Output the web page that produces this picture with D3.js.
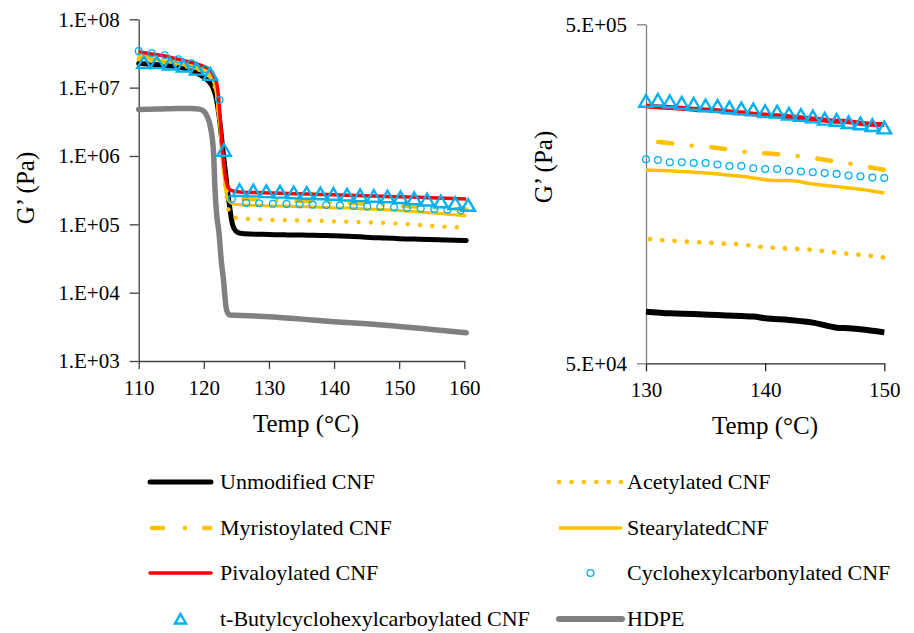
<!DOCTYPE html>
<html>
<head>
<meta charset="utf-8">
<script src="https://cdn.jsdelivr.net/npm/d3@7"></script>
<style>
  body { margin: 0; background: #fff; }
  svg text { font-family: "Liberation Serif", "Times New Roman", serif; fill: #000; }
</style>
</head>
<body>
<div id="chart"></div>
<script>
// ---- data: [temp °C, G' Pa] ----
const hdpe = [[110,4.8e6],[113,4.85e6],[116,4.95e6],[118,4.95e6],[119.3,4.85e6],[120,4.5e6],[120.5,3.8e6],[121,2.7e6],[121.5,1.1e6],
  [121.7,3.5e5],[122,1.3e5],[122.3,8e4],[122.7,2.8e4],[123,1.6e4],[123.5,5.5e3],[124,4.7e3],[127,4.6e3],[130,4.45e3],
  [135,4.1e3],[140,3.75e3],[145,3.5e3],[150,3.2e3],[155,2.9e3],[160.3,2.6e3]];

const unmodified = [[110,2.25e7],[112,2.2e7],[114,2.12e7],[116,2.02e7],[118,1.8e7],[119,1.62e7],[120,1.42e7],[120.8,1.22e7],
  [121.4,1.0e7],[121.9,7.0e6],[122.4,3.5e6],[122.9,1.3e6],[123.4,5.0e5],[123.9,2.0e5],[124.4,1.0e5],[124.9,8.0e4],[125.6,7.4e4],
  [127,7.2e4],[130,7.10e4],[132,7.02e4],[134,6.99e4],[136,6.94e4],[138,6.89e4],[139,6.87e4],[140,6.79e4],[142,6.71e4],
  [144,6.59e4],[146,6.37e4],[147,6.34e4],[148,6.30e4],[150,6.17e4],[153,6.05e4],[156,5.95e4],[160.3,5.8e4]];

const acetylated = [[110,2.6e7],[112,2.45e7],[114,2.3e7],[116,2.15e7],[118,1.95e7],[120,1.7e7],[121,1.45e7],[121.6,1.1e7],
  [122.1,6.0e6],[122.5,2.5e6],[122.9,9.0e5],[123.3,3.6e5],[123.7,1.8e5],[124.2,1.32e5],[125,1.24e5],[127,1.2e5],
  [130,1.165e5],[132,1.15e5],[134,1.14e5],[136,1.13e5],[138,1.12e5],[140,1.10e5],[142,1.09e5],[144,1.08e5],[146,1.06e5],
  [148,1.045e5],[150,1.025e5],[153,9.8e4],[156,9.4e4],[160.3,8.9e4]];

const myristoylated = [[110,3.0e7],[112,2.8e7],[114,2.6e7],[116,2.4e7],[118,2.15e7],[120,1.85e7],[121,1.55e7],[121.6,1.2e7],
  [122.1,6.5e6],[122.5,2.6e6],[122.9,9.0e5],[123.3,4.0e5],[123.8,2.7e5],[124.5,2.45e5],[126,2.35e5],[128,2.3e5],
  [130,2.26e5],[131.5,2.24e5],[134,2.19e5],[135.5,2.17e5],[138.5,2.10e5],[141,2.07e5],[143,2.04e5],[145.5,1.98e5],
  [147.5,1.93e5],[150,1.86e5],[153,1.8e5],[156,1.74e5],[160.3,1.66e5]];

const stearylated = [[110,2.8e7],[112,2.62e7],[114,2.45e7],[116,2.25e7],[118,2.0e7],[120,1.75e7],[121,1.5e7],[121.6,1.15e7],
  [122.1,6.0e6],[122.5,2.4e6],[122.9,8.5e5],[123.3,3.4e5],[123.8,2.2e5],[124.5,1.98e5],[126,1.92e5],[128,1.89e5],
  [130,1.86e5],[132,1.85e5],[134,1.83e5],[136,1.81e5],[138,1.78e5],[140,1.74e5],[141,1.73e5],[142,1.73e5],[144,1.69e5],
  [146,1.66e5],[148,1.63e5],[150,1.59e5],[153,1.52e5],[156,1.44e5],[160.3,1.33e5]];

const pivaloylated = [[110,3.35e7],[112,3.1e7],[114,2.9e7],[116,2.6e7],[118,2.35e7],[120,2.05e7],[121,1.8e7],[121.6,1.45e7],
  [122.1,1.0e7],[122.4,5.0e6],[122.7,2.0e6],[123,9.0e5],[123.4,4.5e5],[123.9,3.3e5],[124.6,3.05e5],[126,2.95e5],[128,2.91e5],
  [130,2.87e5],[132,2.84e5],[134,2.81e5],[136,2.78e5],[138,2.74e5],[140,2.70e5],[142,2.67e5],[144,2.63e5],[146,2.59e5],
  [147,2.58e5],[148,2.55e5],[150,2.53e5],[153,2.48e5],[156,2.42e5],[160.3,2.35e5]];

// marker series, overview chart
const cycloLeft = [[110,3.44e7],[112,3.18e7],[114,2.98e7],[116.1,2.6e7],[118.1,2.27e7],[120.2,1.86e7],[122.4,6.6e6],
  [124.3,2.34e5],[126.5,2.06e5],[128.5,2.03e5],[130.6,2.0e5],[132.7,1.98e5],[134.7,1.96e5],[136.7,1.94e5],[138.8,1.92e5],
  [140.9,1.89e5],[143,1.86e5],[145.1,1.83e5],[147.1,1.8e5],[149.2,1.77e5],[151.2,1.74e5],[153.3,1.71e5],[155.4,1.68e5],
  [157.4,1.64e5],[159.5,1.6e5]];

const butylLeft = [[110.8,2.3e7],[112.8,2.3e7],[114.8,2.2e7],[116.9,2.05e7],[118.9,1.85e7],[121,1.55e7],[123.1,1.2e6],
  [125.5,3.1e5],[127.6,3.05e5],[129.6,2.98e5],[131.7,2.93e5],[133.8,2.87e5],[135.8,2.82e5],[137.9,2.77e5],[139.9,2.72e5],
  [142,2.66e5],[144,2.6e5],[146.1,2.55e5],[148.2,2.5e5],[150.2,2.44e5],[152.3,2.35e5],[154.3,2.25e5],[156.4,2.12e5],
  [158.6,2.0e5],[160.6,1.88e5]];

// marker series, zoomed chart (130-150 °C)
const zoomTemps = [130,131,132,133,134,135,136,137,138,139,140,141,142,143,144,145,146,147,148,149,150];
const cycloRight = [2.00e5,1.99e5,1.96e5,1.96e5,1.95e5,1.95e5,1.93e5,1.91e5,1.91e5,1.88e5,1.87e5,1.87e5,1.85e5,
  1.84e5,1.83e5,1.82e5,1.81e5,1.79e5,1.78e5,1.765e5,1.76e5];
const butylRight = [2.96e5,2.98e5,2.95e5,2.92e5,2.90e5,2.87e5,2.86e5,2.83e5,2.81e5,2.79e5,2.76e5,2.75e5,2.71e5,
  2.69e5,2.66e5,2.62e5,2.60e5,2.56e5,2.54e5,2.51e5,2.47e5];

const leftXTicks = [110,120,130,140,150,160];
const leftYTicks = [1e3,1e4,1e5,1e6,1e7,1e8];
const rightXTicks = [130,140,150];
const rightYTicks = [5e4,5e5];

const YELLOW = "#FFC000", BLUE = "#00B0F0", RED = "#FF0000", GRAY = "#808080";

const svg = d3.select("#chart").append("svg").attr("width", 914).attr("height", 633);

function expFormat(d) {
  const e = Math.floor(Math.log10(d) + 1e-9);
  const m = Math.round(d / Math.pow(10, e));
  return m + ".E+" + String(e).padStart(2, "0");
}

const triPath = "M0,-6.5L6.8,5.2L-6.8,5.2Z";

function drawPanel(g, x, y, xTicks, yTicks, opt) {
  const [y0] = y.range();
  const [x0] = x.range();
  const xa = g.append("g").attr("transform", `translate(0,${y0})`)
    .call(d3.axisBottom(x).tickValues(xTicks).tickSize(8).tickPadding(11).tickSizeOuter(0).tickFormat(d3.format("d")));
  xa.select(".domain").attr("stroke", opt.xAxisColor).attr("stroke-width", 1.3);
  xa.selectAll(".tick line").attr("stroke", opt.xAxisColor).attr("stroke-width", 1.3);
  xa.selectAll("text").attr("font-size", 21);

  const ya = g.append("g").attr("transform", `translate(${x0},0)`)
    .call(d3.axisLeft(y).tickValues(yTicks).tickSize(9).tickPadding(10).tickSizeOuter(0).tickFormat(expFormat));
  ya.select(".domain").attr("stroke", opt.yAxisColor).attr("stroke-width", 1.3);
  ya.selectAll(".tick line").attr("stroke", opt.yAxisColor).attr("stroke-width", 1.3);
  ya.selectAll("text").attr("font-size", 21);

  g.append("text").attr("x", opt.xTitle[0]).attr("y", opt.xTitle[1]).attr("text-anchor", "middle")
    .attr("dy", "0.35em").attr("font-size", 25).text("Temp (°C)");
  g.append("text").attr("transform", `translate(${opt.yTitle[0]},${opt.yTitle[1]}) rotate(-90)`)
    .attr("text-anchor", "middle").attr("dy", "0.35em").attr("font-size", 25).text("G’ (Pa)");
}

function drawLines(g, x, y, series, lo, hi) {
  const line = d3.line().x(d => x(d[0])).y(d => y(d[1])).curve(d3.curveMonotoneX);
  series.forEach(s => {
    const pts = s.data.filter(d => d[0] >= lo && d[0] <= hi);
    g.append("path").datum(pts).attr("d", line)
      .attr("fill", "none").attr("stroke", s.color).attr("stroke-width", s.width)
      .attr("stroke-linecap", s.cap || "butt").attr("stroke-linejoin", "round")
      .attr("stroke-dasharray", s.dash || null).attr("stroke-dashoffset", s.offset || 0);
  });
}

function drawMarkers(g, x, y, circles, triangles) {
  g.append("g").selectAll("circle").data(circles).join("circle")
    .attr("cx", d => x(d[0])).attr("cy", d => y(d[1])).attr("r", 3.4)
    .attr("fill", "none").attr("stroke", BLUE).attr("stroke-width", 1.3);
  g.append("g").selectAll("path").data(triangles).join("path")
    .attr("d", triPath).attr("transform", d => `translate(${x(d[0])},${y(d[1])})`)
    .attr("fill", "none").attr("stroke", BLUE).attr("stroke-width", 2.4).attr("stroke-linejoin", "miter");
}

// ---- left: overview ----
const xL = d3.scaleLinear().domain([110, 160]).range([138.7, 464.3]);
const yL = d3.scaleLog().domain([1e3, 1e8]).range([361, 19.3]);
const gL = svg.append("g");
drawPanel(gL, xL, yL, leftXTicks, leftYTicks, {xAxisColor: "#404040", yAxisColor: "#404040", xTitle: [306, 423], yTitle: [25, 188]});
drawLines(gL, xL, yL, [
  {data: hdpe, color: GRAY, width: 5.5, cap: "round"},
  {data: unmodified, color: "#000", width: 5, cap: "round"},
  {data: acetylated, color: YELLOW, width: 4.3, cap: "round", dash: "0.1 12.2"},
  {data: myristoylated, color: YELLOW, width: 4, cap: "round", dash: "14 19.5 0.1 19.7"},
  {data: stearylated, color: YELLOW, width: 3},
  {data: pivaloylated, color: RED, width: 3.5}
], 100, 170);
drawMarkers(gL, xL, yL, cycloLeft, butylLeft);

// ---- right: zoom 130-150 ----
const xR = d3.scaleLinear().domain([130, 150]).range([646, 884.3]);
const yR = d3.scaleLog().domain([5e4, 5e5]).range([363.3, 24.3]);
const gR = svg.append("g");
drawPanel(gR, xR, yR, rightXTicks, rightYTicks, {xAxisColor: "#262626", yAxisColor: "#7f7f7f", xTitle: [765, 425], yTitle: [543, 167]});
drawLines(gR, xR, yR, [
  {data: unmodified, color: "#000", width: 6},
  {data: acetylated, color: YELLOW, width: 4.7, cap: "round", dash: "0.1 12.2", offset: 8.3},
  {data: myristoylated, color: YELLOW, width: 4.5, cap: "round", dash: "14 19.5 0.1 19.7", offset: 41},
  {data: stearylated, color: YELLOW, width: 3.5},
  {data: pivaloylated, color: RED, width: 5}
], 130, 150);
drawMarkers(gR, xR, yR, zoomTemps.map((t, i) => [t, cycloRight[i]]), zoomTemps.map((t, i) => [t, butylRight[i]]));

// ---- legend ----
const legendItems = [
  {name: "Unmodified CNF", col: 0, row: 0, type: "line", color: "#000", width: 5, cap: "round"},
  {name: "Acetylated CNF", col: 1, row: 0, type: "line", color: YELLOW, width: 4.5, cap: "round", dash: "0.1 12.3"},
  {name: "Myristoylated CNF", col: 0, row: 1, type: "line", color: YELLOW, width: 4.5, cap: "round", dash: "11 22 0.1 19", x1: 152, x2: 210},
  {name: "StearylatedCNF", col: 1, row: 1, type: "line", color: YELLOW, width: 3.5},
  {name: "Pivaloylated CNF", col: 0, row: 2, type: "line", color: RED, width: 3.5, cap: "round"},
  {name: "Cyclohexylcarbonylated CNF", col: 1, row: 2, type: "circle"},
  {name: "t-Butylcyclohexylcarboylated CNF", col: 0, row: 3, type: "triangle"},
  {name: "HDPE", col: 1, row: 3, type: "line", color: GRAY, width: 6, cap: "round"}
];
const legCols = [{x1: 150, x2: 211, tx: 220}, {x1: 559, x2: 622, tx: 627}];
const legRows = [482, 528, 573, 619];
const lg = svg.append("g");
legendItems.forEach(it => {
  const c = legCols[it.col], yy = legRows[it.row];
  if (it.type === "line") {
    lg.append("line").attr("x1", it.x1 || c.x1).attr("x2", it.x2 || c.x2).attr("y1", yy).attr("y2", yy)
      .attr("stroke", it.color).attr("stroke-width", it.width).attr("stroke-linecap", it.cap || "butt")
      .attr("stroke-dasharray", it.dash || null);
  } else if (it.type === "circle") {
    lg.append("circle").attr("cx", (c.x1 + c.x2) / 2).attr("cy", yy).attr("r", 3.4)
      .attr("fill", "none").attr("stroke", BLUE).attr("stroke-width", 1.3);
  } else {
    lg.append("path").attr("d", "M0,-5L5.5,4.5L-5.5,4.5Z").attr("transform", `translate(${(c.x1 + c.x2) / 2},${yy})`)
      .attr("fill", "none").attr("stroke", BLUE).attr("stroke-width", 2.4);
  }
  lg.append("text").attr("x", c.tx).attr("y", yy).attr("dy", "0.33em").attr("font-size", 22).text(it.name);
});
</script>
</body>
</html>
